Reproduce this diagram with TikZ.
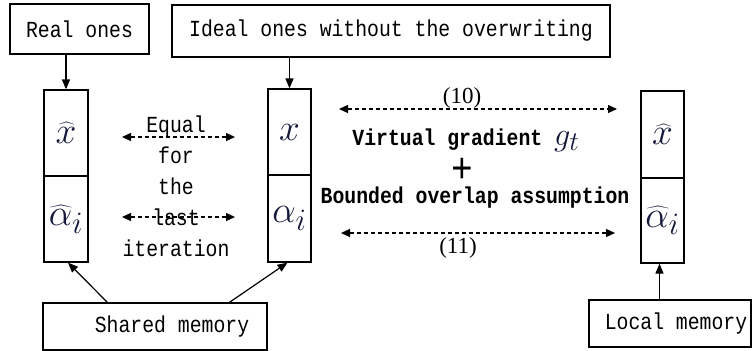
\documentclass[tikz,border=0pt]{standalone}
\usepackage{graphicx}
\usepackage{fontspec}
\newfontfamily\monofont[FakeStretch=0.86]{Liberation Mono}
\newfontfamily\numfont{Liberation Serif}
\usetikzlibrary{arrows.meta}
\definecolor{mathnavy}{RGB}{20,24,58}
\newcommand\cellmath[1]{\scalebox{1.5}{\Huge\color{mathnavy}$#1$}}
\begin{document}
\begin{tikzpicture}[x=1pt,y=-1pt,
  box/.style={draw,line width=1.2pt,inner sep=0pt,font=\monofont\fontsize{23}{28}\selectfont},
  cell/.style={draw,line width=1.2pt,minimum width=44pt,minimum height=86pt,inner sep=0pt},
  plaintext/.style={inner sep=0pt,font=\monofont\fontsize{23}{28}\selectfont},
  boldtext/.style={inner sep=0pt,font=\monofont\bfseries\fontsize{23}{28}\selectfont},
  numtext/.style={inner sep=0pt,font=\numfont\fontsize{23}{26}\selectfont},
  solidarrow/.style={-{Triangle[length=10pt,width=8pt]},line width=1.2pt},
  dasharrow/.style={{Triangle[length=9pt,width=8pt]}-{Triangle[length=9pt,width=8pt]},line width=1.2pt,dash pattern=on 4.5pt off 2.5pt}
]
\useasboundingbox (0,0) rectangle (756,351);

% top boxes
\node[box,minimum width=139pt,minimum height=50pt] (real) at (79.5,29) {Real ones};
\node[box,minimum width=438pt,minimum height=52pt] (ideal) at (391,31) {Ideal ones without the overwriting};

% columns
\node[cell] (Lx) at (66,133) {\cellmath{\widehat{x}}};
\node[cell] (La) at (66,219) {\cellmath{\widehat{\alpha}_i}};
\node[cell,minimum width=43pt] (Mx) at (289.5,132) {\cellmath{x}};
\node[cell,minimum width=43pt,minimum height=87pt] (Ma) at (289.5,218.5) {\cellmath{\alpha_i}};
\node[cell,minimum width=43pt,minimum height=87pt] (Rx) at (662.5,134.5) {\cellmath{\widehat{x}}};
\node[cell,minimum width=43pt,minimum height=85pt] (Ra) at (662.5,220.5) {\cellmath{\widehat{\alpha}_i}};

% bottom boxes
\node[box,minimum width=224pt,minimum height=47pt] (shared) at (155,326.5) {\hspace*{34pt}Shared memory};
\node[box,minimum width=162pt,minimum height=47pt] (local) at (670,323.5) {\hspace*{12pt}Local memory};

% solid arrows
\draw[solidarrow] (Lx.north |- real.south) -- (Lx.north);
\draw[solidarrow] (Mx.north |- ideal.south) -- (Mx.north);
\draw[solidarrow] ([xshift=65pt]shared.north west) -- ([xshift=2pt]La.south);
\draw[solidarrow] ([xshift=187pt]shared.north west) -- ([xshift=-2pt]Ma.south);
\draw[solidarrow] ([xshift=-3pt]Ra.south |- local.north) -- ([xshift=-3pt]Ra.south);

% middle text and arrows
\node[plaintext,align=center,font=\monofont\fontsize{23}{31}\selectfont] (eqtext) at (176,186) {Equal\\for\\the\\last\\iteration};
\coordinate (e1a) at (122,137);
\coordinate (e1b) at (235,137);
\coordinate (e2a) at (122,217);
\coordinate (e2b) at (235,217);
\draw[dasharrow] (e1a) -- (e1b);
\draw[dasharrow] (e2a) -- (e2b);

% right text and arrows
\coordinate (r1a) at (339,109);
\coordinate (r1b) at (617,109);
\coordinate (r2a) at (341,233);
\coordinate (r2b) at (615,233);
\draw[dasharrow] (r1a) -- (r1b);
\draw[dasharrow] (r2a) -- (r2b);
\node[numtext] (n10) at (462,98) {(10)};
\node[boldtext] (vg) at (466,140) {Virtual gradient \scalebox{1.3}{\Huge\color{mathnavy}$g_t$}};
\node[inner sep=0pt,font=\monofont\fontsize{42}{42}\selectfont] (plus) at (462,170) {+};
\node[boldtext] (boa) at (475,198) {Bounded overlap assumption};
\node[numtext] (n11) at (458,248) {(11)};
\end{tikzpicture}
\end{document}
